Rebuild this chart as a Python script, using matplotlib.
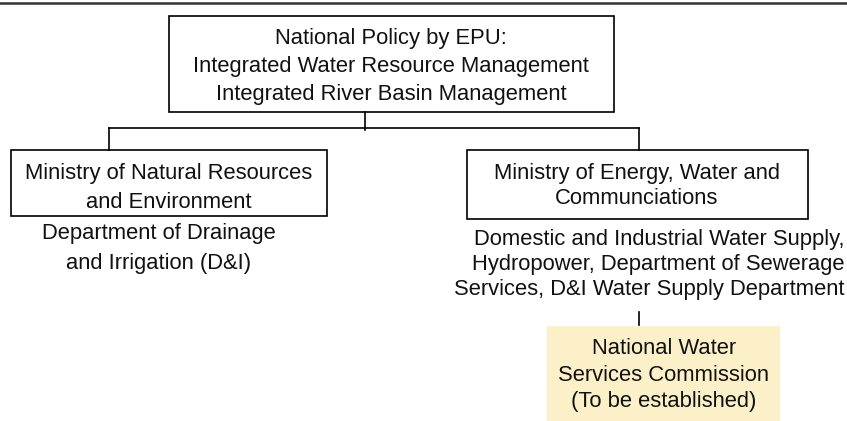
import matplotlib
matplotlib.use("Agg")
import matplotlib.pyplot as plt
from matplotlib.patches import Rectangle

plt.rcParams['font.family'] = ['Liberation Sans', 'DejaVu Sans']

# chart content
top_lines = ["National Policy by EPU:",
             "Integrated Water Resource Management",
             "Integrated River Basin Management"]
left_lines = ["Ministry of Natural Resources", "and Environment"]
left_sub = ["Department of Drainage", "and Irrigation (D&I)"]
right_lines = ["Ministry of Energy, Water and", "Communciations"]
right_sub = ["Domestic and Industrial Water Supply,",
             "Hydropower, Department of Sewerage",
             "Services, D&I Water Supply Department"]
new_lines = ["National Water", "Services Commission", "(To be established)"]

fig = plt.figure(figsize=(8.47, 4.21), dpi=100)
ax = fig.add_axes([0, 0, 1, 1])
ax.set_xlim(0, 847)
ax.set_ylim(421, 0)
ax.axis('off')

FS = 15.8


def lines_at(lines, x, y0, step, ha='center'):
    for i, s in enumerate(lines):
        ax.text(x, y0 + i * step, s, ha=ha, va='center', fontsize=FS, color='#111111')


def box(x0, y0, x1, y1, fc='white', ec='black'):
    ax.add_patch(Rectangle((x0, y0), x1 - x0, y1 - y0, fc=fc, ec=ec, lw=1.2))


# rule at the top
ax.plot([0, 847], [3, 3], color='#333333', lw=1.8)

# top box
box(169, 16, 614, 112)
lines_at(top_lines, 391, 38.5, 28)

# connectors
ax.plot([365, 365], [112, 130], color='black', lw=1.2)
ax.plot([109, 639], [128, 128], color='black', lw=1.2)
ax.plot([109, 109], [128, 150], color='black', lw=1.2)
ax.plot([639, 639], [128, 150], color='black', lw=1.2)

# ministries
box(11, 150, 327, 216)
lines_at(left_lines, 169, 174, 28.5)
lines_at(left_sub, 159, 234, 29)

box(467, 150, 808, 219)
lines_at(right_lines, 637, 174, 25)
lines_at(right_sub, 844, 239.5, 25, ha='right')

# new commission
ax.plot([639, 639], [312, 325], color='black', lw=1.2)
ax.add_patch(Rectangle((547, 326), 233, 95, fc='#fcf0c8', ec='none'))
lines_at(new_lines, 664, 349, 26.5)

fig.savefig("out.png", dpi=100)
